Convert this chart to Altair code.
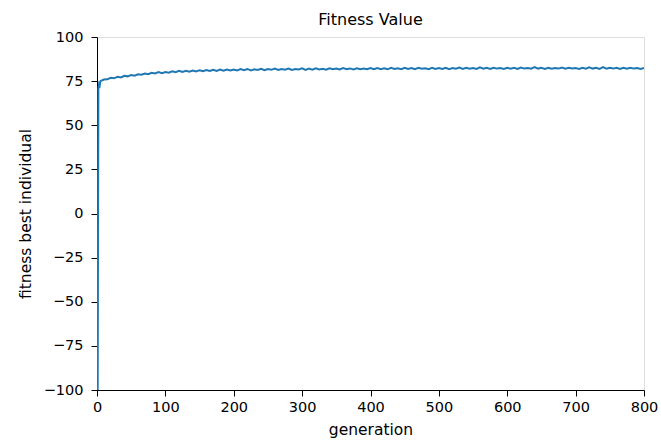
import altair as alt
import pandas as pd

# generations sampled (every 5 after the first few)
generations = [1, 2, 3, 4] + list(range(5, 801, 5))

fitness_start = [-100.0, 70.8, 73.4, 72.6]
fitness_5_100 = [75.0, 75.9, 76.0, 76.9, 76.6, 77.5, 77.1, 78.0, 77.7, 78.5,
                 78.1, 78.9, 78.6, 79.3, 78.9, 79.7, 79.3, 80.1, 79.5, 80.2]
fitness_105_200 = [79.8, 80.6, 80.1, 80.8, 80.2, 80.9, 80.4, 81.0, 80.5, 81.2,
                   80.6, 81.3, 80.7, 81.4, 80.8, 81.5, 80.9, 81.6, 81.0, 81.6]
fitness_205_300 = [81.1, 81.8, 81.2, 81.9, 81.1, 81.7, 81.3, 82.0, 81.2, 81.8,
                   81.4, 82.1, 81.3, 81.9, 81.5, 82.1, 81.3, 81.9, 81.6, 82.2]
fitness_305_400 = [81.4, 82.1, 81.5, 82.3, 81.6, 82.0, 81.5, 82.3, 81.7, 82.1,
                   81.6, 82.4, 81.7, 82.2, 81.6, 82.3, 81.8, 82.2, 81.7, 82.4]
fitness_405_500 = [81.7, 82.4, 81.8, 82.3, 81.7, 82.5, 81.9, 82.3, 81.8, 82.6,
                   81.9, 82.4, 81.8, 82.5, 82.0, 82.3, 81.8, 82.5, 81.9, 82.4]
fitness_505_600 = [81.9, 82.6, 81.8, 82.4, 82.0, 82.7, 81.9, 82.5, 82.0, 82.4,
                   81.9, 82.8, 82.0, 82.5, 81.9, 82.6, 82.1, 82.4, 81.9, 82.6]
fitness_605_700 = [82.0, 82.5, 81.9, 82.7, 82.1, 82.4, 82.0, 82.9, 82.1, 82.5,
                   81.9, 82.6, 82.0, 82.4, 82.1, 82.7, 82.0, 82.5, 82.1, 82.4]
fitness_705_800 = [81.9, 82.6, 82.0, 82.8, 82.1, 82.5, 81.9, 82.9, 82.0, 82.5,
                   82.1, 82.6, 81.9, 82.5, 82.0, 82.6, 82.1, 82.4, 81.9, 82.5]

fitness = (fitness_start + fitness_5_100 + fitness_105_200 + fitness_205_300 +
           fitness_305_400 + fitness_405_500 + fitness_505_600 +
           fitness_605_700 + fitness_705_800)

x_ticks = [0, 100, 200, 300, 400, 500, 600, 700, 800]
y_ticks = [-100, -75, -50, -25, 0, 25, 50, 75, 100]

df = pd.DataFrame({"generation": generations, "fitness": fitness})

FONT = "DejaVu Sans"

common_axis = dict(grid=False, domainColor="black", tickColor="black", tickSize=6,
                   labelFontSize=14.5, titleFontSize=15.5, labelColor="black",
                   titleColor="black", labelFont=FONT, titleFont=FONT,
                   titleFontWeight="normal", labelFlush=False)

chart = alt.Chart(df).mark_line(color="#1f77b4", strokeWidth=2.0, clip=True).encode(
    x=alt.X("generation:Q",
            scale=alt.Scale(domain=[0, 800], nice=False, zero=False),
            axis=alt.Axis(values=x_ticks, title="generation",
                          labelPadding=4, titlePadding=9, **common_axis)),
    y=alt.Y("fitness:Q",
            scale=alt.Scale(domain=[-100, 100], nice=False, zero=False),
            axis=alt.Axis(values=y_ticks, title="fitness best individual",
                          labelPadding=8, titlePadding=10, **common_axis)),
).properties(
    width=547,
    height=353,
    title=alt.TitleParams("Fitness Value", font=FONT, fontSize=16,
                          fontWeight="normal", color="black", offset=1),
    autosize=alt.AutoSizeParams(type="none"),
    padding={"left": 97, "top": 37, "right": 17, "bottom": 55},
).configure_view(
    stroke="black", strokeWidth=1
).configure(background="white")

chart.save("out.html", embed_options={"renderer": "svg", "actions": False})
